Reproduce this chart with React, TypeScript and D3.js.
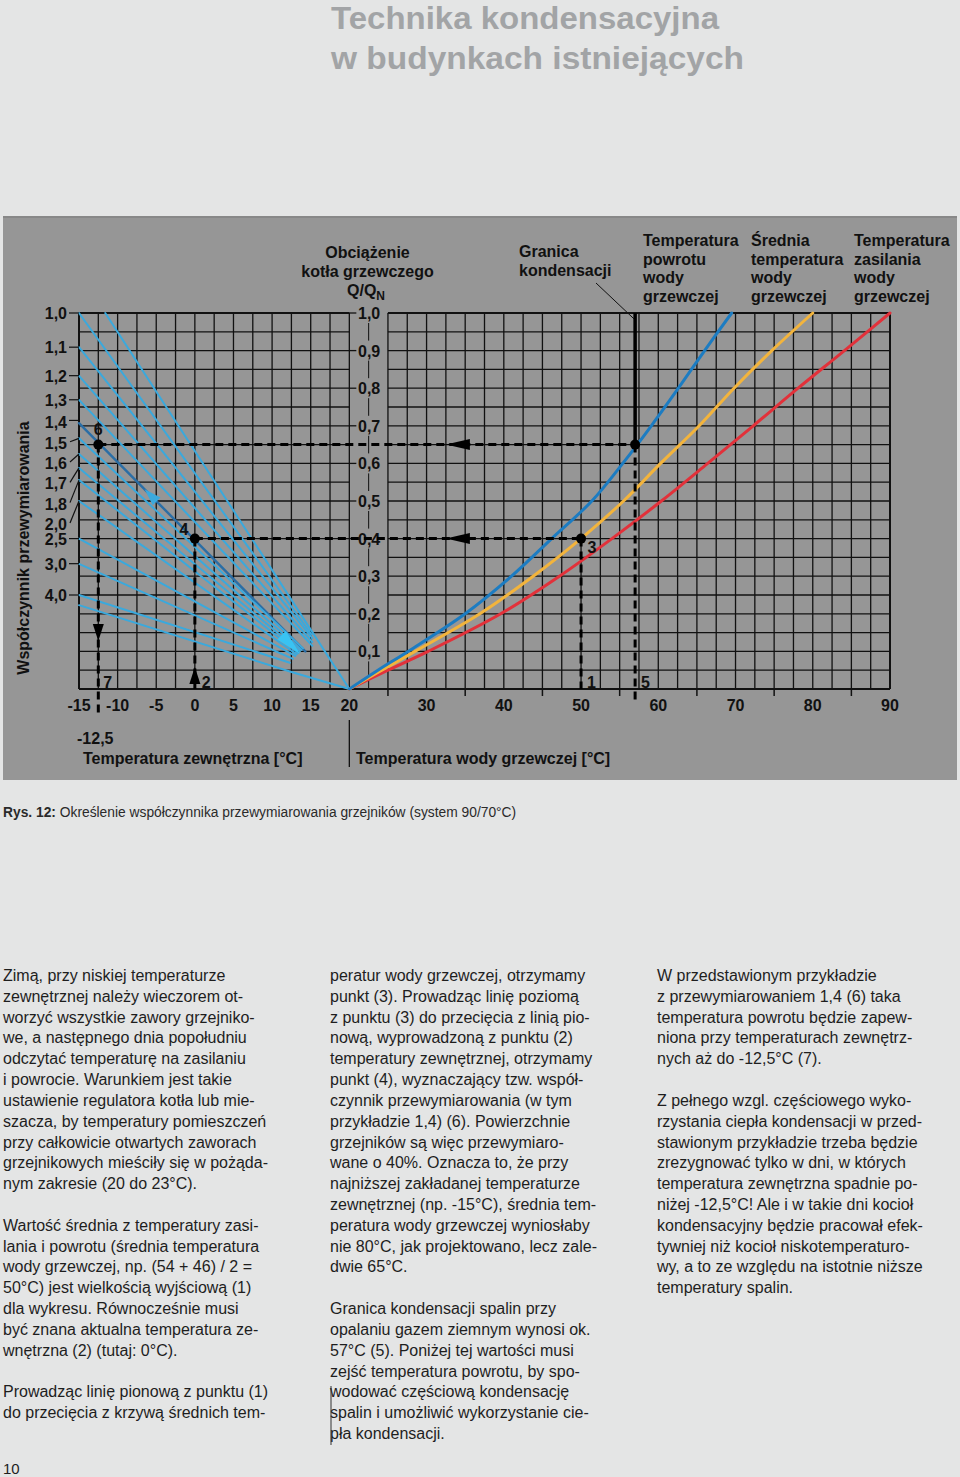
import React from 'react';
import * as d3 from 'd3';

// ---------- data ----------
const outdoorTickValues = [-15, -10, -5, 0, 5, 10, 15, 20];
const waterTickValues = [30, 40, 50, 60, 70, 80, 90];
const waterMinorTicks = [25, 35, 45, 55, 65, 75, 85];
const loadTickValues = [0.1, 0.2, 0.3, 0.4, 0.5, 0.6, 0.7, 0.8, 0.9, 1.0];

const oversizeFactors = [1.0, 1.1, 1.2, 1.3, 1.4, 1.5, 1.6, 1.7, 1.8, 2.0, 2.5, 3.0, 4.0];
const oversizeLabels = ['1,0', '1,1', '1,2', '1,3', '1,4', '1,5', '1,6', '1,7', '1,8', '2,0', '2,5', '3,0', '4,0'];
const leaderLabelFlags = [false, false, false, false, false, true, true, true, true, true, false, false, false];

// fan lines (outdoor temperature -> boiler load)
const fanStartT = [-11.6, -15, -15, -15, -15, -15, -15, -15, -15, -15, -15, -15, -15, -15, -15];
const fanStartQ = [1.0, 1.0, 0.909, 0.833, 0.769, 0.707, 0.667, 0.625, 0.588, 0.556, 0.5, 0.4, 0.333, 0.25, 0.223];
const fanEndT = [15.0, 15.1, 15.2, 15.2, 15.2, 14.3, 14.0, 13.8, 13.6, 13.4, 13.2, 13.0, 12.7, 12.3, 12.4];
const fanEndQ = [0.158, 0.145, 0.135, 0.125, 0.115, 0.10, 0.108, 0.104, 0.1, 0.096, 0.092, 0.088, 0.08, 0.07, 0.046];
const fanToOrigin = [true, false, false, false, false, false, false, false, false, false, false, false, false, false, true];
const fanHighlight = [false, false, false, false, false, true, false, false, false, false, false, false, false, false, false];

// heating water temperature curves
const curveLoad = [0, 0.05, 0.1, 0.2, 0.3, 0.4, 0.5, 0.6, 0.7, 0.8, 0.9, 1.0];
const returnTemp = [20, 23.7, 27.6, 35.0, 41.0, 46.2, 51.4, 55.4, 59.1, 62.6, 66.0, 69.5];
const meanTemp = [20, 24.2, 28.5, 36.9, 43.8, 50.0, 55.5, 60.3, 65.3, 69.8, 74.7, 80.0];
const supplyTemp = [20, 25.0, 30.2, 39.6, 47.2, 54.0, 60.4, 66.4, 72.3, 78.1, 84.1, 90.0];

// reading example
const pointLabels = ['6', '4', '3', '5'];
const pointT = [-12.5, 0, 50, 57];
const pointQ = [0.65, 0.4, 0.4, 0.65];
const condensationLimit = 57;

const headerSeries = [
  ['Temperatura', 'powrotu', 'wody', 'grzewczej'],
  ['Średnia', 'temperatura', 'wody', 'grzewczej'],
  ['Temperatura', 'zasilania', 'wody', 'grzewczej'],
];

const col1 = [
  'Zimą, przy niskiej temperaturze',
  'zewnętrznej należy wieczorem ot-',
  'worzyć wszystkie zawory grzejniko-',
  'we, a następnego dnia popołudniu',
  'odczytać temperaturę na zasilaniu',
  'i powrocie. Warunkiem jest takie',
  'ustawienie regulatora kotła lub mie-',
  'szacza, by temperatury pomieszczeń',
  'przy całkowicie otwartych zaworach',
  'grzejnikowych mieściły się w pożąda-',
  'nym zakresie (20 do 23°C).',
  '',
  'Wartość średnia z temperatury zasi-',
  'lania i powrotu (średnia temperatura',
  'wody grzewczej, np. (54 + 46) / 2 =',
  '50°C) jest wielkością wyjściową (1)',
  'dla wykresu. Równocześnie musi',
  'być znana aktualna temperatura ze-',
  'wnętrzna (2) (tutaj: 0°C).',
  '',
  'Prowadząc linię pionową z punktu (1)',
  'do przecięcia z krzywą średnich tem-',
];
const col2 = [
  'peratur wody grzewczej, otrzymamy',
  'punkt (3). Prowadząc linię poziomą',
  'z punktu (3) do przecięcia z linią pio-',
  'nową, wyprowadzoną z punktu (2)',
  'temperatury zewnętrznej, otrzymamy',
  'punkt (4), wyznaczający tzw. współ-',
  'czynnik przewymiarowania (w tym',
  'przykładzie 1,4) (6). Powierzchnie',
  'grzejników są więc przewymiaro-',
  'wane o 40%. Oznacza to, że przy',
  'najniższej zakładanej temperaturze',
  'zewnętrznej (np. -15°C), średnia tem-',
  'peratura wody grzewczej wyniosłaby',
  'nie 80°C, jak projektowano, lecz zale-',
  'dwie 65°C.',
  '',
  'Granica kondensacji spalin przy',
  'opalaniu gazem ziemnym wynosi ok.',
  '57°C (5). Poniżej tej wartości musi',
  'zejść temperatura powrotu, by spo-',
  'wodować częściową kondensację',
  'spalin i umożliwić wykorzystanie cie-',
  'pła kondensacji.',
];
const col3 = [
  'W przedstawionym przykładzie',
  'z przewymiarowaniem 1,4 (6) taka',
  'temperatura powrotu będzie zapew-',
  'niona przy temperaturach zewnętrz-',
  'nych aż do -12,5°C (7).',
  '',
  'Z pełnego wzgl. częściowego wyko-',
  'rzystania ciepła kondensacji w przed-',
  'stawionym przykładzie trzeba będzie',
  'zrezygnować tylko w dni, w których',
  'temperatura zewnętrzna spadnie po-',
  'niżej -12,5°C! Ale i w takie dni kocioł',
  'kondensacyjny będzie pracował efek-',
  'tywniej niż kocioł niskotemperaturo-',
  'wy, a to ze względu na istotnie niższe',
  'temperatury spalin.',
];

// ---------- layout ----------
const FONT = "'Liberation Sans', Arial, Helvetica, sans-serif";
const BG = '#e4e5e5';
const PANEL = '#969696';
const FAN = '#3aa9dd';
const FAN_DARK = '#2a6ea6';
const C_RETURN = '#1c7cc2';
const C_MEAN = '#f3b43c';
const C_SUPPLY = '#e2313a';

const xS = d3.scaleLinear().domain([-15, 90]).range([79, 890]);
const yS = d3.scaleLinear().domain([0, 1]).range([689, 313]);

const fmt = (v: number) => (Math.round(v * 10) / 10).toFixed(1).replace('.', ',');

function arrowPts(tipX: number, tipY: number, dx: number, dy: number, len: number, hw: number) {
  const n = Math.hypot(dx, dy);
  const ux = dx / n, uy = dy / n;
  const bx = tipX - ux * len, by = tipY - uy * len;
  const px = -uy, py = ux;
  return `${tipX},${tipY} ${bx + px * hw},${by + py * hw} ${bx - px * hw},${by - py * hw}`;
}

export default function App() {
  React.useEffect(() => {
    document.body.style.margin = '0';
    document.body.style.background = BG;
  }, []);

  const gridStep = 2.5;
  const leftV = d3.range(-15, 20 + 0.01, gridStep);
  const rightV = d3.range(25, 90 + 0.01, gridStep);
  const hLines = d3.range(0, 1 + 0.001, 0.05);

  const lineGen = d3
    .line<[number, number]>()
    .x((d) => xS(d[0]))
    .y((d) => yS(d[1]))
    .curve(d3.curveCatmullRom.alpha(0.5));
  const straight = d3
    .line<[number, number]>()
    .x((d) => xS(d[0]))
    .y((d) => yS(d[1]));

  const series = [
    { temps: supplyTemp, color: C_SUPPLY },
    { temps: meanTemp, color: C_MEAN },
    { temps: returnTemp, color: C_RETURN },
  ];

  const x20 = xS(20);
  const xLbl = xS(22.5);
  const labelBaseY = (q: number) => yS(q) + 6;

  // left axis label positions
  const idx14 = oversizeFactors.indexOf(1.4);
  let leaderCount = 0;
  const leftLabels = oversizeFactors.map((f, i) => {
    const tickY = yS(1 / f);
    let labelY = tickY;
    if (leaderLabelFlags[i]) {
      leaderCount += 1;
      labelY = yS(1 / oversizeFactors[idx14]) + 2 + 20.3 * leaderCount;
    } else if (i === idx14) {
      labelY = tickY + 2;
    }
    return { f, i, tickY, labelY, leader: leaderLabelFlags[i] };
  });

  const bodyLine = 20.82;
  const bodyTop = 981;

  const dash = '8 5';
  const p = pointT.map((t, i) => ({ x: xS(t), y: yS(pointQ[i]), label: pointLabels[i] }));
  const [p6, p4, p3, p5] = p;

  // dark line direction for arrow
  const dk = fanHighlight.indexOf(true);
  const dkx0 = xS(fanStartT[dk]), dky0 = yS(fanStartQ[dk]);
  const dkx1 = xS(fanEndT[dk]), dky1 = yS(fanEndQ[dk]);
  const tArrow = 0.29;
  const arrTipX = dkx0 + (dkx1 - dkx0) * tArrow;
  const arrTipY = dky0 + (dky1 - dky0) * tArrow;

  const fanPath = (i: number) => {
    const pts: [number, number][] = [
      [fanStartT[i], fanStartQ[i]],
      [fanEndT[i], fanEndQ[i]],
    ];
    if (fanToOrigin[i]) pts.push([20, 0]);
    return straight(pts) || '';
  };

  return (
    <svg
      width={960}
      height={1477}
      viewBox="0 0 960 1477"
      style={{ position: 'absolute', left: 0, top: 0, display: 'block' }}
      fontFamily={FONT}
    >
      <rect x={0} y={0} width={960} height={1477} fill={BG} />

      {/* title */}
      <text x={331} y={29} fontSize={31.5} fontWeight="bold" fill="#a2a4a6" textLength={388} lengthAdjust="spacingAndGlyphs">
        Technika kondensacyjna
      </text>
      <text x={331} y={68.5} fontSize={31.5} fontWeight="bold" fill="#a2a4a6" textLength={413} lengthAdjust="spacingAndGlyphs">
        w budynkach istniejących
      </text>

      {/* chart panel */}
      <rect x={3} y={216} width={954} height={564} fill={PANEL} />
      <rect x={3} y={216} width={954} height={2} fill="#888" />

      {/* grid */}
      <g stroke="#111" strokeWidth={1.3}>
        {leftV.map((t) => (
          <line key={'lv' + t} x1={xS(t)} x2={xS(t)} y1={yS(0)} y2={yS(1)} />
        ))}
        {rightV.map((t) => (
          <line key={'rv' + t} x1={xS(t)} x2={xS(t)} y1={yS(0)} y2={yS(1)} />
        ))}
        {hLines.map((q) => (
          <g key={'h' + q}>
            <line x1={xS(-15)} x2={xS(20)} y1={yS(q)} y2={yS(q)} />
            <line x1={xS(25)} x2={xS(90)} y1={yS(q)} y2={yS(q)} />
          </g>
        ))}
      </g>
      <g stroke="#111" strokeWidth={2}>
        <line x1={xS(-15)} x2={xS(20)} y1={yS(1)} y2={yS(1)} />
        <line x1={xS(25)} x2={xS(90)} y1={yS(1)} y2={yS(1)} />
        <line x1={xS(-15)} x2={xS(90)} y1={yS(0)} y2={yS(0)} />
        <line x1={xS(-15)} x2={xS(-15)} y1={yS(0)} y2={yS(1)} />
        <line x1={xS(90)} x2={xS(90)} y1={yS(0)} y2={yS(1)} />
      </g>

      {/* fan lines */}
      <g fill="none" strokeLinecap="round">
        {fanEndT.map((et, i) => (
          <path
            key={'fan' + i}
            d={fanPath(i)}
            stroke={fanHighlight[i] ? FAN_DARK : FAN}
            strokeWidth={fanHighlight[i] ? 2.4 : 2}
          />
        ))}
      </g>
      {/* arrows on fan */}
      <polygon
        points={arrowPts(arrTipX, arrTipY, dkx0 - dkx1, dky0 - dky1, 17, 5.5)}
        fill={FAN}
      />
      <polygon
        points={arrowPts(xS(13.6), yS(0.094), 1, 1, 26, 6)}
        fill="#39c3f2"
      />

      {/* bottom minor ticks */}
      <g stroke="#111" strokeWidth={1.5}>
        {waterMinorTicks.map((t) => (
          <line key={'mt' + t} x1={xS(t)} x2={xS(t)} y1={yS(0)} y2={yS(0) + 7} />
        ))}
      </g>

      {/* middle load axis */}
      <g stroke="#111" strokeWidth={1.3}>
        {loadTickValues.map((q) => (
          <line key={'lt' + q} x1={x20} x2={x20 + 7} y1={yS(q)} y2={yS(q)} />
        ))}
        {[0, ...loadTickValues].map((q, i, arr) =>
          i < arr.length - 1 ? (
            <line
              key={'lc' + q}
              x1={xLbl}
              x2={xLbl}
              y1={yS(q) - (q === 0 ? 0 : 10)}
              y2={yS(arr[i + 1]) + 10}
              strokeWidth={1}
            />
          ) : null
        )}
      </g>
      <g fontSize={16} fontWeight="bold" fill="#111" textAnchor="middle">
        {loadTickValues.map((q) => (
          <text key={'ll' + q} x={xLbl + 0.5} y={labelBaseY(q)}>
            {fmt(q)}
          </text>
        ))}
      </g>

      {/* heating water curves */}
      <g fill="none" strokeLinecap="round">
        {series.map((s, i) => (
          <path
            key={'c' + i}
            d={lineGen(curveLoad.map((q, j) => [s.temps[j], q] as [number, number])) || ''}
            stroke={s.color}
            strokeWidth={3}
          />
        ))}
      </g>

      {/* left oversizing axis */}
      <g stroke="#111" strokeWidth={1.2}>
        {leftLabels.map((l) =>
          l.leader ? (
            <line key={'ld' + l.i} x1={70} y1={l.labelY - 1} x2={xS(-15)} y2={l.tickY} />
          ) : (
            <line key={'tk' + l.i} x1={69} x2={xS(-15)} y1={l.tickY} y2={l.tickY} />
          )
        )}
      </g>
      <g fontSize={16} fontWeight="bold" fill="#111" textAnchor="end">
        {leftLabels.map((l) => (
          <text key={'ol' + l.i} x={67} y={l.labelY + 6}>
            {oversizeLabels[l.i]}
          </text>
        ))}
      </g>

      {/* condensation limit */}
      <line x1={xS(condensationLimit)} x2={xS(condensationLimit)} y1={yS(1)} y2={p5.y} stroke="#000" strokeWidth={3.5} />
      <line x1={596} y1={283} x2={xS(condensationLimit) - 1} y2={yS(1) + 6} stroke="#111" strokeWidth={1} />

      {/* dashed guide lines */}
      <g stroke="#000" strokeWidth={3} strokeDasharray={dash} fill="none">
        <line x1={p6.x} x2={p5.x} y1={p6.y} y2={p5.y} />
        <line x1={p4.x} x2={p3.x} y1={p4.y} y2={p3.y} />
        <line x1={p6.x} x2={p6.x} y1={p6.y} y2={717} />
        <line x1={p4.x} x2={p4.x} y1={p4.y} y2={yS(0)} />
        <line x1={p3.x} x2={p3.x} y1={p3.y} y2={yS(0)} />
        <line x1={p5.x} x2={p5.x} y1={p5.y} y2={703} />
      </g>
      <g fill="#000">
        <polygon points={arrowPts(xS(32.5), p6.y, -1, 0, 24, 5.5)} />
        <polygon points={arrowPts(xS(32.5), p4.y, -1, 0, 24, 5.5)} />
        <polygon points={arrowPts(p6.x, 641, 0, 1, 17, 5.5)} />
        <polygon points={arrowPts(p4.x, 667, 0, -1, 17, 5.5)} />
        {p.map((d, i) => (
          <circle key={'pt' + i} cx={d.x} cy={d.y} r={5} />
        ))}
      </g>

      {/* point labels */}
      <g fontSize={16} fontWeight="bold" fill="#111">
        <text x={p6.x} y={435} textAnchor="middle">6</text>
        <text x={p4.x - 11} y={535} textAnchor="middle">4</text>
        <text x={p3.x + 11} y={553} textAnchor="middle">3</text>
        <text x={p6.x + 5} y={688}>7</text>
        <text x={p4.x + 7} y={688}>2</text>
        <text x={p3.x + 6} y={688}>1</text>
        <text x={p5.x + 6} y={688}>5</text>
      </g>

      {/* bottom tick labels */}
      <g fontSize={16} fontWeight="bold" fill="#111" textAnchor="middle">
        {outdoorTickValues.map((t) => (
          <text key={'ot' + t} x={xS(t)} y={711}>
            {t}
          </text>
        ))}
        {waterTickValues.map((t) => (
          <text key={'wt' + t} x={xS(t)} y={711}>
            {t}
          </text>
        ))}
      </g>

      {/* header texts */}
      <g fontSize={16} fontWeight="bold" fill="#111">
        <text x={367.5} y={257.5} textAnchor="middle">Obciążenie</text>
        <text x={367.5} y={276.5} textAnchor="middle">kotła grzewczego</text>
        <text x={366} y={295.5} textAnchor="middle">
          Q/Q<tspan fontSize={12} dy={4}>N</tspan>
        </text>
        <text x={519} y={257}>Granica</text>
        <text x={519} y={275.5}>kondensacji</text>
        {headerSeries.map((lines, si) =>
          lines.map((ln, li) => (
            <text key={'hs' + si + li} x={[643, 751, 854][si]} y={246 + li * 18.5}>
              {ln}
            </text>
          ))
        )}
        <text x={77} y={744}>-12,5</text>
        <text x={83} y={764}>Temperatura zewnętrzna [°C]</text>
        <text x={356} y={764}>Temperatura wody grzewczej [°C]</text>
        <text transform="translate(29,548) rotate(-90)" textAnchor="middle">
          Współczynnik przewymiarowania
        </text>
      </g>
      <line x1={x20} x2={x20} y1={720} y2={767} stroke="#111" strokeWidth={1.3} />

      {/* caption */}
      <text x={3} y={817} fontSize={13.8} fill="#2a2a2a">
        <tspan fontWeight="bold">Rys. 12:</tspan> Określenie współczynnika przewymiarowania grzejników (system 90/70°C)
      </text>

      {/* body text */}
      <g fontSize={16} fill="#1e1e1e">
        {col1.map((t, i) => (
          <text key={'a' + i} x={3} y={bodyTop + i * bodyLine}>{t}</text>
        ))}
        {col2.map((t, i) => (
          <text key={'b' + i} x={330} y={bodyTop + i * bodyLine}>{t}</text>
        ))}
        {col3.map((t, i) => (
          <text key={'c' + i} x={657} y={bodyTop + i * bodyLine}>{t}</text>
        ))}
      </g>
      <line x1={331} x2={331} y1={1386} y2={1445} stroke="#333" strokeWidth={1} />

      <text x={3} y={1474} fontSize={15} fill="#1e1e1e">10</text>
    </svg>
  );
}
